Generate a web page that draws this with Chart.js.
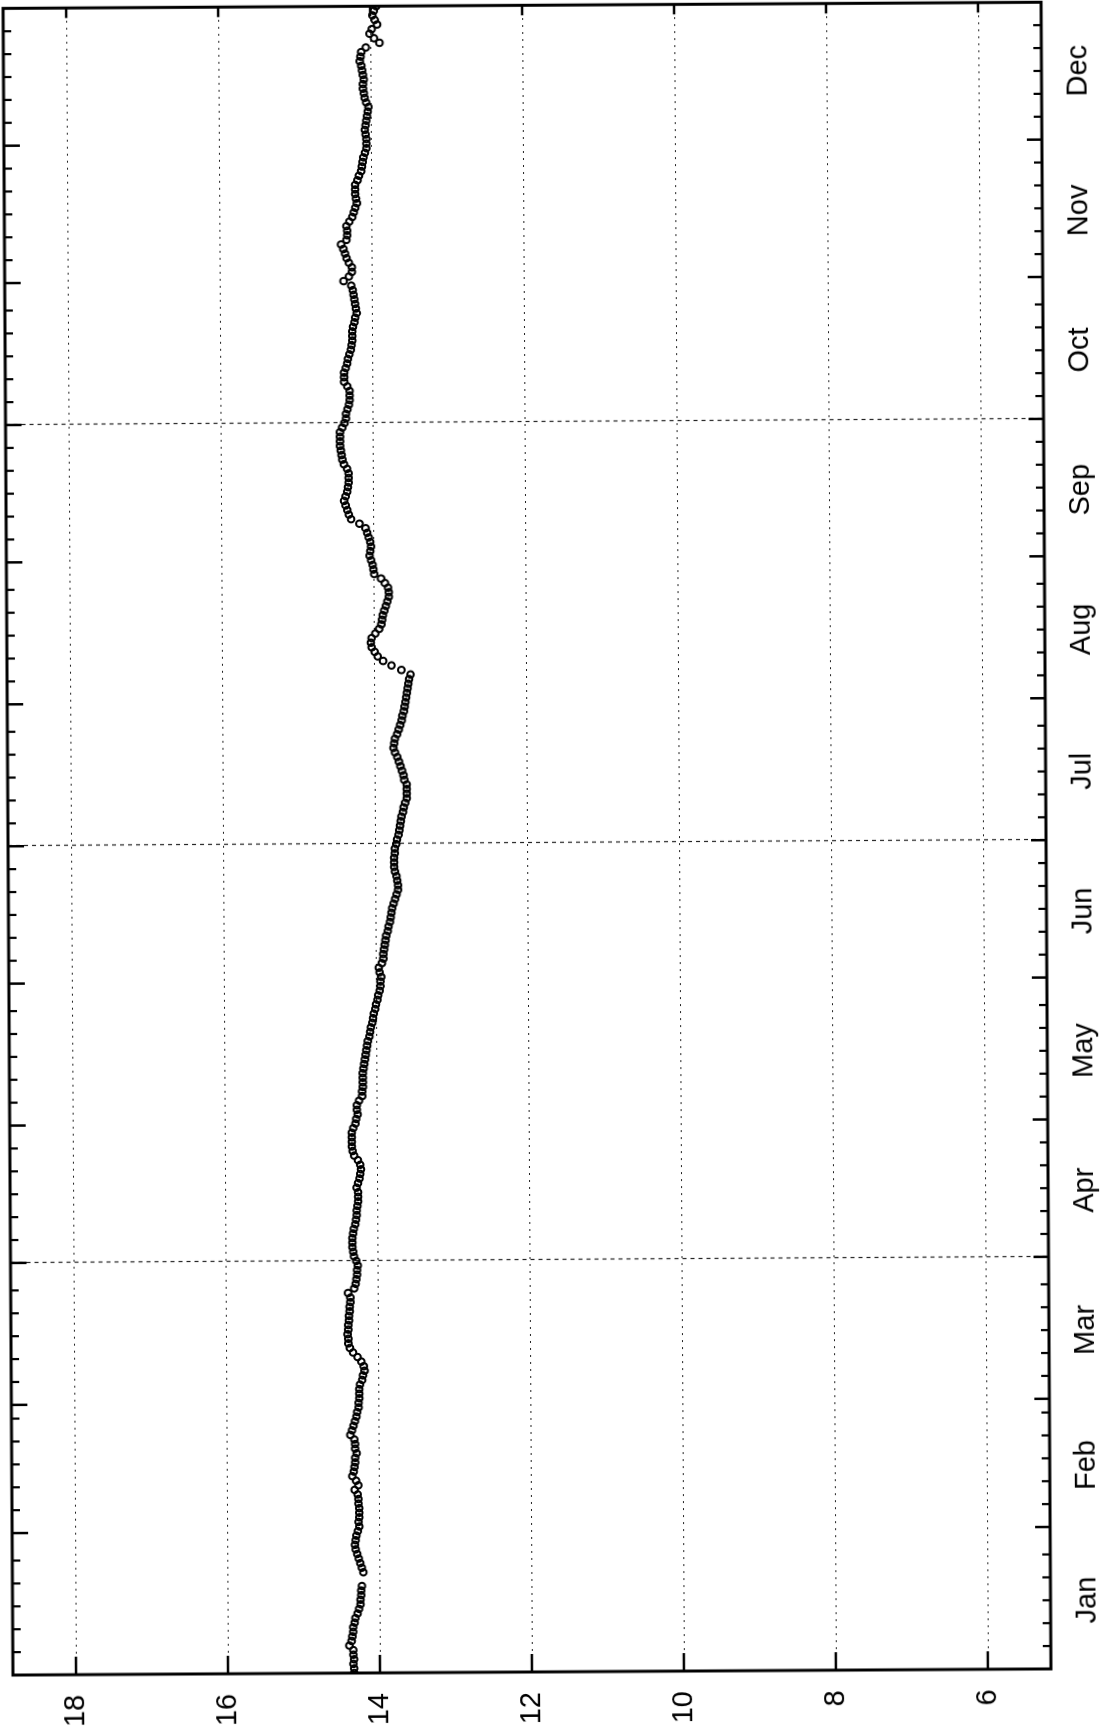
<!DOCTYPE html>
<html><head><meta charset="utf-8">
<script src="https://cdn.jsdelivr.net/npm/chart.js@4"></script>
<style>
html,body{margin:0;padding:0;background:#fff;overflow:hidden;width:1112px;height:1728px;}
#page{position:absolute;left:0;top:0;width:1112px;height:1728px;transform-origin:531px 837px;transform:translate(-4px,0) rotate(-0.34deg);}
#wrap{position:absolute;left:0;top:0;width:1728px;height:1112px;transform-origin:0 0;transform:translate(0,1728px) rotate(-90deg);}
canvas{display:block;}
</style></head><body>
<div id="page"><div id="wrap"><canvas id="c" width="1728" height="1112"></canvas></div></div>
<script>
const monthNames = ['Jan','Feb','Mar','Apr','May','Jun','Jul','Aug','Sep','Oct','Nov','Dec'];
const monthStartDays = [1,32,60,91,121,152,182,213,244,274,305,335,366];
const quarterGridDays = [91,182,274];
const valueTicks = [6,8,10,12,14,16,18];
const minorOffsets = [5,10,15,20,25];
const days = Array.from({length:365},(_,i)=>i+1);
const values = [
14.34,14.34,14.35,14.34,14.35,14.35,14.40,14.37,14.36,14.35,
14.35,14.33,14.32,14.29,14.27,14.25,14.25,14.24,14.24,14.23,
null,null,14.21,14.23,14.25,14.27,14.29,14.31,14.32,14.31,
14.30,14.28,14.26,14.27,14.26,14.26,14.26,14.27,14.27,14.28,
14.32,14.27,14.30,14.35,14.33,14.32,14.31,14.31,14.29,14.31,
14.31,14.32,14.37,14.35,14.33,14.31,14.29,14.28,14.26,14.26,
14.25,14.25,14.25,14.24,14.21,14.20,14.18,14.19,14.22,14.27,
14.33,14.37,14.39,14.39,14.40,14.39,14.39,14.38,14.38,14.37,
14.37,14.36,14.36,14.39,14.31,14.29,14.28,14.27,14.27,14.26,
14.28,14.31,14.32,14.33,14.33,14.33,14.32,14.31,14.29,14.28,
14.27,14.27,14.26,14.25,14.25,14.25,14.27,14.25,14.23,14.22,
14.21,14.22,14.25,14.30,14.32,14.33,14.33,14.33,14.33,14.31,
14.28,14.27,14.25,14.26,14.26,14.23,14.19,14.19,14.18,14.18,
14.18,14.18,14.17,14.16,14.15,14.14,14.13,14.12,14.11,14.09,
14.08,14.07,14.05,14.04,14.03,14.01,14.00,13.98,13.97,13.95,
13.94,13.94,13.93,13.95,13.96,13.92,13.90,13.90,13.89,13.88,
13.87,13.86,13.84,13.83,13.81,13.80,13.79,13.78,13.76,13.74,
13.72,13.70,13.70,13.71,13.72,13.74,13.75,13.75,13.75,13.74,
13.74,13.72,13.71,13.69,13.68,13.67,13.66,13.65,13.63,13.62,
13.60,13.58,13.58,13.58,13.58,13.61,13.62,13.64,13.66,13.68,
13.70,13.73,13.75,13.74,13.73,13.70,13.68,13.66,13.64,13.63,
13.61,13.60,13.59,13.58,13.57,13.56,13.55,13.54,13.52,13.64,
13.77,13.88,13.95,13.99,14.03,14.04,14.03,13.98,13.93,13.90,
13.89,13.88,13.86,13.84,13.82,13.80,13.80,13.81,13.85,13.90,
13.99,14.00,14.01,14.03,14.05,14.04,14.03,14.04,14.06,14.08,
14.10,14.18,14.29,14.32,14.34,14.36,14.38,14.36,14.34,14.33,
14.32,14.32,14.32,14.34,14.38,14.40,14.41,14.42,14.43,14.43,
14.43,14.43,14.40,14.37,14.35,14.35,14.33,14.31,14.30,14.30,
14.30,14.33,14.37,14.37,14.37,14.35,14.33,14.32,14.30,14.28,
14.27,14.26,14.26,14.26,14.25,14.23,14.22,14.20,14.21,14.22,
14.23,14.24,14.25,14.27,14.37,14.30,14.26,14.26,14.30,14.33,
14.35,14.37,14.40,14.33,14.32,14.32,14.33,14.29,14.25,14.23,
14.21,14.19,14.20,14.21,14.21,14.21,14.18,14.16,14.13,14.12,
14.11,14.10,14.08,14.06,14.06,14.06,14.07,14.08,14.07,14.06,
14.05,14.04,14.03,14.06,14.08,14.09,14.10,14.10,14.09,14.10,
14.11,14.12,14.14,14.13,14.12,14.06,13.88,13.95,14.01,13.98,
13.91,13.94,13.97,13.95,13.92
];
const monthMid = monthNames.map((m,i)=>(monthStartDays[i]+monthStartDays[i+1])/2 - 0.5);

const framePlugin = {
  id:'frame',
  beforeDatasetsDraw(chart){
    const {ctx, chartArea:a, scales:{x,y}} = chart;
    ctx.save();
    ctx.beginPath(); ctx.rect(a.left,a.top,a.right-a.left,a.bottom-a.top); ctx.clip();
    ctx.strokeStyle='#222'; ctx.lineWidth=1.2;
    ctx.setLineDash([2,5]);
    valueTicks.forEach(v=>{const py=Math.round(y.getPixelForValue(v))+0.5;ctx.beginPath();ctx.moveTo(a.left,py);ctx.lineTo(a.right,py);ctx.stroke();});
    ctx.setLineDash([4,4]);
    quarterGridDays.forEach(d=>{const px=Math.round(x.getPixelForValue(d))+0.5;ctx.beginPath();ctx.moveTo(px,a.top);ctx.lineTo(px,a.bottom);ctx.stroke();});
    ctx.restore();
  },
  afterDatasetsDraw(chart){
    const {ctx, chartArea:a, scales:{x,y}} = chart;
    ctx.save();
    ctx.setLineDash([]);
    ctx.strokeStyle='#000';
    ctx.lineWidth=2.5;
    const tick=(x1,y1,x2,y2)=>{ctx.beginPath();ctx.moveTo(x1,y1);ctx.lineTo(x2,y2);ctx.stroke();};
    monthStartDays.slice(1,-1).forEach(d=>{const px=x.getPixelForValue(d);tick(px,a.top,px,a.top+16);tick(px,a.bottom,px,a.bottom-15);});
    ctx.lineWidth=2.2;
    monthStartDays.slice(0,-1).forEach((s,i)=>{minorOffsets.forEach(k=>{const d=s+k;if(d<monthStartDays[i+1]){const px=x.getPixelForValue(d);tick(px,a.top,px,a.top+8);tick(px,a.bottom,px,a.bottom-8);}});});
    ctx.lineWidth=2.5;
    valueTicks.forEach(v=>{const py=y.getPixelForValue(v);tick(a.left,py,a.left+18,py);tick(a.right,py,a.right-10,py);});
    ctx.lineWidth=3;
    ctx.strokeRect(a.left,a.top,a.right-a.left,a.bottom-a.top);
    ctx.restore();
  }
};

const pts = days.map((d,i)=>({x:d,y:values[i]})).filter(p=>p.y!==null);
const font = {family:'"Liberation Sans", Arial, sans-serif', size:29};
const zeroPad = s=>{s.paddingTop=0;s.paddingBottom=0;s.paddingLeft=0;s.paddingRight=0;};
new Chart(document.getElementById('c'), {
  type:'scatter',
  data:{datasets:[{data:pts, pointStyle:'circle', pointRadius:3.3, pointHoverRadius:3.3, pointBorderWidth:2, borderColor:'#000', backgroundColor:'rgba(0,0,0,0)'}]},
  options:{
    responsive:false, animation:false, devicePixelRatio:1, events:[],
    layout:{padding:{left:0,right:4,top:12,bottom:0}},
    plugins:{legend:{display:false}, tooltip:{enabled:false}},
    scales:{
      x:{type:'linear', position:'bottom', min:1, max:365,
        grid:{display:false, drawTicks:false}, border:{display:false},
        afterBuildTicks:s=>{s.ticks=monthMid.map(v=>({value:v}));},
        afterFit:s=>{s.height=62;zeroPad(s);},
        ticks:{autoSkip:false, maxRotation:0, minRotation:0, padding:20, color:'#000', font,
          callback:(v,i)=>monthNames[i]}},
      y:{type:'linear', position:'left', min:5.17, max:18.83,
        grid:{display:false, drawTicks:false}, border:{display:false},
        afterBuildTicks:s=>{s.ticks=valueTicks.map(v=>({value:v}));},
        afterFit:s=>{s.width=56;zeroPad(s);},
        ticks:{padding:20, color:'#000', font, callback:v=>String(v)}}
    }
  },
  plugins:[framePlugin]
});
</script>
</body></html>
